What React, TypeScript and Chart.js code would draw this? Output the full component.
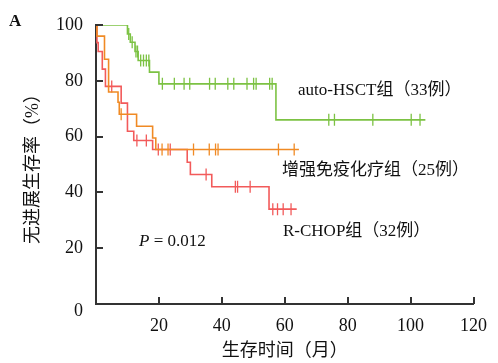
import { useEffect, useRef } from 'react';
import { Chart, registerables } from 'chart.js';

Chart.register(...registerables);

// auto-HSCT组 (33例)
const hsctTimes = [0, 10, 10.9, 12.4, 13.4, 17, 20, 57.2, 104.7];
const hsctSurv = [100, 96.8, 93.8, 90.5, 87.3, 83.1, 78.9, 66, 66];
const hsctCensor = [10.4, 11.5, 12.7, 13.2, 14.2, 15.1, 16, 16.8, 21.1, 24.9, 28, 29.8, 36.1, 37.9, 41.9, 43.8, 48, 50.1, 50.9, 55.2, 56, 74, 75.8, 88, 100.2, 103];

// 增强免疫化疗组 (25例)
const immTimes = [0, 0.3, 2.7, 4, 7, 7.4, 12.9, 18, 19, 64.5];
const immSurv = [100, 96, 87.7, 76, 72.3, 68, 63.7, 59.5, 55.4, 55.4];
const immCensor = [8, 21, 22.9, 31, 36, 38, 38.8, 58, 63];

// R-CHOP组 (32例)
const rchopTimes = [0, 0.3, 0.7, 2, 3, 8, 10, 12, 18, 29, 30, 36.8, 55, 63.8];
const rchopSurv = [100, 93.7, 90.5, 84.2, 78, 72, 61.9, 58.6, 55.4, 50.8, 46.4, 42, 34, 34];
const rchopCensor = [5, 13, 16, 19.8, 23.6, 35, 44.3, 45, 49, 56.2, 57.7, 59.5, 62];

const xTicks = [20, 40, 60, 80, 100, 120];
const yTicks = [0, 20, 40, 60, 80, 100];

const GREEN = '#7cc243';
const ORANGE = '#f08a24';
const RED = '#f25a5a';
const AXIS = '#333333';
const FONT = "'Liberation Serif', 'Noto Sans CJK SC', serif";

function curve(times: number[], surv: number[]) {
  return times.map((t, i) => ({ x: t, y: surv[i] }));
}

function survAt(times: number[], surv: number[], t: number) {
  let s = surv[0];
  for (let i = 0; i < times.length; i++) {
    if (times[i] <= t) s = surv[i];
  }
  return s;
}

function censors(times: number[], surv: number[], cs: number[]) {
  return cs.map((t) => ({ x: t, y: survAt(times, surv, t) }));
}

const annotPlugin = {
  id: 'annot',
  afterDraw(chart: any) {
    const { ctx, scales, chartArea } = chart;
    const xs = scales.x;
    const ys = scales.y;
    ctx.save();
    // inward tick marks
    ctx.strokeStyle = AXIS;
    ctx.lineWidth = 2;
    ctx.beginPath();
    yTicks.forEach((v) => {
      if (v === 0) return;
      const py = Math.round(ys.getPixelForValue(v));
      ctx.moveTo(chartArea.left, py);
      ctx.lineTo(chartArea.left + 7, py);
    });
    xTicks.forEach((v) => {
      const px = Math.round(xs.getPixelForValue(v));
      ctx.moveTo(px, chartArea.bottom);
      ctx.lineTo(px, chartArea.bottom - 7);
    });
    ctx.stroke();

    ctx.fillStyle = '#111';
    ctx.textBaseline = 'middle';
    // the y "0" label sits a little below the corner
    ctx.textAlign = 'right';
    ctx.font = `18px ${FONT}`;
    ctx.fillText(String(yTicks[0]), chartArea.left - 13, chartArea.bottom + 7);

    ctx.textAlign = 'left';
    ctx.font = `17px ${FONT}`;
    ctx.fillText('auto-HSCT组（33例）', 298, 91);
    ctx.fillText('增强免疫化疗组（25例）', 282, 171);
    ctx.fillText('R-CHOP组（32例）', 283, 232);
    ctx.font = `italic 17px ${FONT}`;
    ctx.fillText('P', 139, 242);
    const pw = ctx.measureText('P').width;
    ctx.font = `17px ${FONT}`;
    ctx.fillText(' = 0.012', 139 + pw, 242);
    ctx.font = `bold 17px ${FONT}`;
    ctx.fillText('A', 9, 22);
    ctx.restore();
  },
};

export default function App() {
  const ref = useRef<HTMLCanvasElement | null>(null);
  useEffect(() => {
    if (!ref.current) return;
    const lineDs = (label: string, data: any[], color: string) => ({
      type: 'line' as const,
      label,
      data,
      borderColor: color,
      backgroundColor: color,
      borderWidth: 1.6,
      stepped: 'before' as const,
      pointRadius: 0,
      fill: false,
    });
    const censorDs = (label: string, data: any[], color: string) => ({
      type: 'scatter' as const,
      label,
      data,
      borderColor: color,
      backgroundColor: color,
      borderWidth: 1.3,
      pointStyle: 'line' as const,
      rotation: 90,
      pointRadius: 6,
      showLine: false,
    });
    const chart = new Chart(ref.current, {
      type: 'line',
      data: {
        datasets: [
          lineDs('auto-HSCT组', curve(hsctTimes, hsctSurv), GREEN),
          censorDs('auto-HSCT组 删失', censors(hsctTimes, hsctSurv, hsctCensor), GREEN),
          lineDs('增强免疫化疗组', curve(immTimes, immSurv), ORANGE),
          censorDs('增强免疫化疗组 删失', censors(immTimes, immSurv, immCensor), ORANGE),
          lineDs('R-CHOP组', curve(rchopTimes, rchopSurv), RED),
          censorDs('R-CHOP组 删失', censors(rchopTimes, rchopSurv, rchopCensor), RED),
        ] as any,
      },
      options: {
        animation: false,
        responsive: true,
        maintainAspectRatio: false,
        layout: { padding: { top: 25, right: 9, left: 0, bottom: 0 } },
        plugins: {
          legend: { display: false },
          tooltip: { enabled: false },
        },
        scales: {
          x: {
            type: 'linear',
            min: 0,
            max: 120,
            grid: { display: false, drawTicks: false },
            border: { display: true, color: AXIS, width: 2 },
            afterBuildTicks: (s: any) => {
              s.ticks = [0, ...xTicks].map((v) => ({ value: v }));
            },
            afterFit: (s: any) => {
              s.height = 59;
            },
            ticks: {
              padding: 11,
              color: '#111',
              font: { family: FONT, size: 18 },
              callback: (v: any) => (v === 0 ? '' : String(v)),
            },
            title: {
              display: true,
              text: '生存时间（月）',
              color: '#111',
              font: { family: FONT, size: 18 },
              padding: { top: 0, bottom: 1 },
            },
          },
          y: {
            type: 'linear',
            min: 0,
            max: 100,
            grid: { display: false, drawTicks: false },
            border: { display: true, color: AXIS, width: 2 },
            afterBuildTicks: (s: any) => {
              s.ticks = yTicks.map((v) => ({ value: v }));
            },
            afterFit: (s: any) => {
              s.width = 96;
            },
            ticks: {
              padding: 13,
              color: '#111',
              font: { family: FONT, size: 18 },
              callback: (v: any) => (v === 0 ? '' : String(v)),
            },
            title: {
              display: true,
              text: '无进展生存率（%）',
              color: '#111',
              font: { family: FONT, size: 18 },
              padding: { top: 22, bottom: 0 },
            },
          },
        },
      } as any,
      plugins: [annotPlugin],
    });
    return () => chart.destroy();
  }, []);
  return (
    <div style={{ position: 'absolute', left: 0, top: 0, width: 498, height: 363, background: '#fff' }}>
      <canvas ref={ref} />
    </div>
  );
}
